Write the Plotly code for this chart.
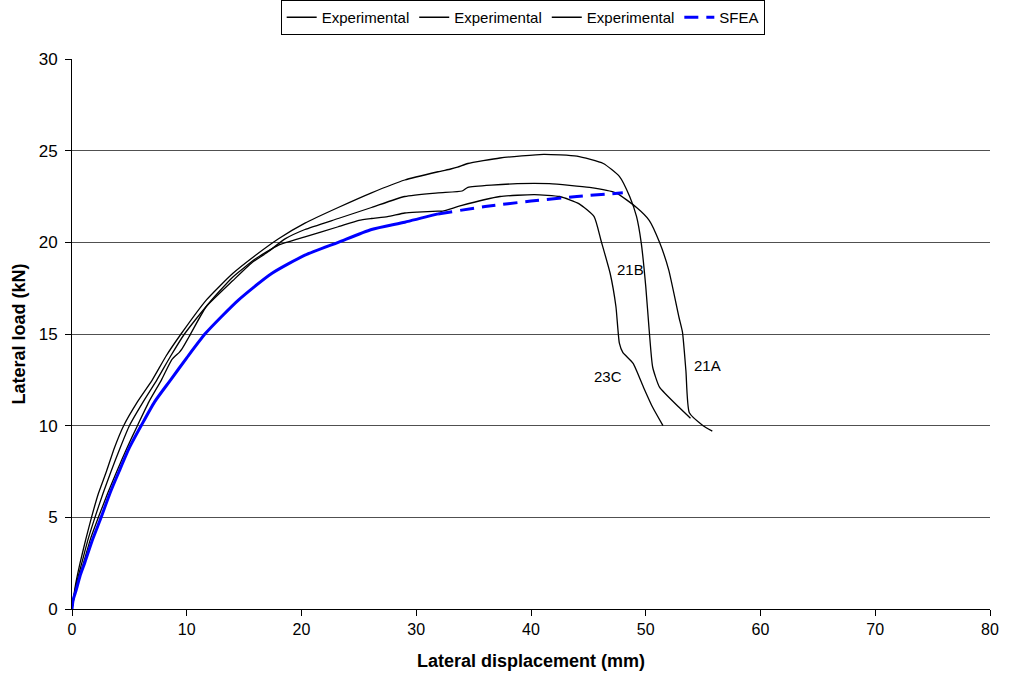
import plotly.graph_objects as go

# ---- data ----
x_21B = [0, 0.3, 0.7, 1.2, 1.7, 2.3, 3.0, 3.7, 4.5, 5.7, 7.0, 8.2, 9.5, 11.7, 14.0, 16.0, 18.0, 20.3,
         23.2, 26.1, 29.0, 31.9, 33.0, 33.6, 34.5, 37.3, 41.1, 44.0, 46.3, 47.7, 48.6, 49.2, 49.6,
         50.0, 50.3, 50.6, 51.2, 52.9, 53.9]
y_21B = [0, 1.3, 2.5, 3.8, 5.0, 6.3, 7.5, 8.8, 10.0, 11.3, 12.5, 13.8, 15.0, 16.85, 18.3, 19.3, 20.2,
         21.05, 21.9, 22.7, 23.4, 23.85, 24.0, 24.1, 24.3, 24.6, 24.8, 24.7, 24.3, 23.6, 22.5, 21.4,
         20.0, 17.6, 15.2, 13.2, 12.1, 11.0, 10.4]

x_21A = [0, 0.35, 0.85, 1.4, 2.0, 2.7, 3.4, 4.2, 5.0, 6.2, 7.4, 8.6, 9.8, 11.7, 14.0, 15.7, 16.9, 18.6,
         20.3, 23.2, 26.1, 29.0, 31.9, 34.0, 34.5, 38.8, 41.6, 45.1, 47.4, 49.2, 50.3, 51.2, 52.0,
         52.9, 53.2, 53.5, 53.8, 55.0, 55.8]
y_21A = [0, 1.3, 2.5, 3.8, 5.0, 6.3, 7.5, 8.8, 10.0, 11.3, 12.5, 13.8, 15.0, 16.5, 17.9, 18.9, 19.4,
         20.2, 20.7, 21.3, 21.9, 22.5, 22.7, 22.8, 23.0, 23.2, 23.2, 23.0, 22.7, 21.9, 21.2, 20.0,
         18.5, 15.9, 15.1, 13.0, 10.7, 10.0, 9.7]

x_23C = [0, 0.4, 1.0, 1.6, 2.3, 3.1, 3.9, 4.8, 5.7, 6.7, 7.8, 8.7, 9.35, 9.6, 10.2, 11.7, 14.0, 16.0,
         18.0, 20.3, 23.2, 25.0, 26.1, 27.5, 29.0, 30.1, 31.9, 32.3, 33.9, 37.3, 40.3, 42.5, 44.2,
         45.5, 46.1, 46.9, 47.4, 47.7, 48.0, 48.9, 49.8, 50.6, 51.5]
y_23C = [0, 1.3, 2.5, 3.8, 5.0, 6.3, 7.5, 8.8, 10.0, 11.3, 12.5, 13.6, 14.0, 14.2, 14.85, 16.5, 18.1,
         19.1, 19.85, 20.3, 20.85, 21.2, 21.3, 21.4, 21.6, 21.65, 21.7, 21.7, 22.0, 22.5, 22.6, 22.5,
         22.1, 21.4, 20.1, 18.3, 16.5, 14.5, 14.0, 13.4, 12.1, 11.0, 10.0]

x_sfea = [0, 0.1, 0.35, 0.7, 1.1, 1.8, 2.54, 3.3, 4.1, 5.0, 6.03, 7.2, 8.6, 10.0, 11.66, 14.5, 17.4,
          20.3, 23.2, 26.1, 29.0, 31.9, 36.0, 40.0, 44.0, 48.0]
y_sfea = [0, 0.5, 1.0, 1.8, 2.5, 3.8, 5.0, 6.3, 7.5, 8.8, 10.0, 11.3, 12.5, 13.7, 15.05, 16.85, 18.3,
          19.3, 20.0, 20.7, 21.1, 21.55, 21.95, 22.25, 22.5, 22.7]
sfea_split = 21  # index where dense (solid-looking) part ends

labels = ["21B", "23C", "21A"]
label_x = [48.7, 46.75, 55.4]
label_y = [18.5, 12.7, 13.3]

x_ticks = [0, 10, 20, 30, 40, 50, 60, 70, 80]
y_ticks = [0, 5, 10, 15, 20, 25, 30]

FONT = "Arial, Liberation Sans, sans-serif"

fig = go.Figure()
for xs, ys in [(x_21B, y_21B), (x_21A, y_21A), (x_23C, y_23C)]:
    fig.add_trace(go.Scatter(x=xs, y=ys, mode="lines", name="Experimental",
                             line=dict(color="black", width=1.3, shape="spline", smoothing=0.5)))
fig.add_trace(go.Scatter(x=x_sfea[:sfea_split + 1], y=y_sfea[:sfea_split + 1], mode="lines",
                         showlegend=False,
                         line=dict(color="#0000ff", width=3, shape="spline", smoothing=0.6)))
fig.add_trace(go.Scatter(x=x_sfea[sfea_split:], y=y_sfea[sfea_split:], mode="lines", name="SFEA",
                         line=dict(color="#0000ff", width=3, dash="14px,8px",
                                   shape="spline", smoothing=0.6)))

for t, lx, ly in zip(labels, label_x, label_y):
    fig.add_annotation(x=lx, y=ly, text=t, showarrow=False,
                       font=dict(family=FONT, size=15, color="black"))

fig.update_layout(
    width=1011, height=681,
    margin=dict(l=72, r=15, t=59, b=72),
    paper_bgcolor="white", plot_bgcolor="white",
    font=dict(family=FONT, color="black"),
    legend=dict(orientation="h", x=0.517, xref="container", xanchor="center",
                y=1.0, yref="container", yanchor="top",
                bordercolor="black", borderwidth=1, font=dict(size=15, family=FONT),
                itemwidth=30, tracegroupgap=0, bgcolor="white"),
)
fig.update_xaxes(range=[0, 80], tickvals=x_ticks, showgrid=False, zeroline=False,
                 showline=True, linecolor="black", linewidth=1,
                 ticks="outside", ticklen=6, tickcolor="black",
                 tickfont=dict(size=16, family=FONT),
                 title=dict(text="<b>Lateral displacement (mm)</b>", font=dict(size=18, family=FONT),
                            standoff=17))
fig.update_yaxes(range=[0, 30], tickvals=y_ticks, showgrid=True, gridcolor="#505050", gridwidth=1,
                 zeroline=False, showline=True, linecolor="black", linewidth=1,
                 ticks="outside", ticklen=6, tickcolor="black", ticklabelstandoff=4,
                 tickfont=dict(size=17, family=FONT),
                 title=dict(text="<b>Lateral load (kN)</b>", font=dict(size=18, family=FONT),
                            standoff=8))

fig.write_html("out.html")
